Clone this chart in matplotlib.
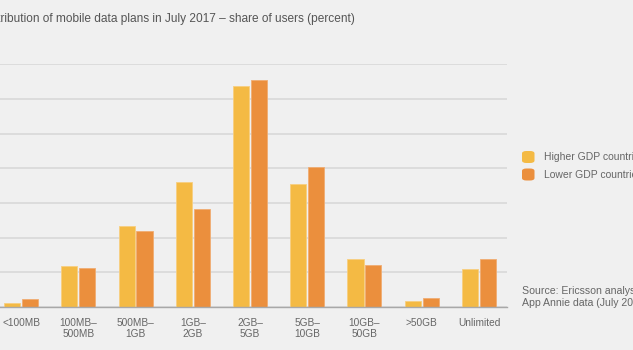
import numpy as np
import matplotlib
matplotlib.use("Agg")
import matplotlib.pyplot as plt
from matplotlib.patches import FancyBboxPatch

# share of users (percent)
categories = ["<100MB", "100MB–\n500MB", "500MB–\n1GB", "1GB–\n2GB", "2GB–\n5GB",
              "5GB–\n10GB", "10GB–\n50GB", ">50GB", "Unlimited"]
higher_gdp = [0.6, 5.9, 11.7, 18.0, 31.8, 17.8, 6.9, 0.9, 5.5]
lower_gdp = [1.2, 5.6, 10.9, 14.2, 32.7, 20.2, 6.1, 1.3, 6.9]

bg = "#f0f0f0"
yellow = "#f4ba44"
orange = "#eb8f3d"
grey_text = "#666666"

plt.rcParams['font.family'] = ['Liberation Sans', 'DejaVu Sans']

fig = plt.figure(figsize=(6.33, 3.5), dpi=100, facecolor=bg)
ax = fig.add_axes([0.0, 0.1229, 0.801, 0.6934], facecolor=bg)

x = np.arange(len(categories))
w = 0.28
off = 0.157
ax.bar(x - off, higher_gdp, w, color=yellow, edgecolor="#f7cf80", linewidth=0.6, zorder=3)
ax.bar(x + off, lower_gdp, w, color=orange, edgecolor="#f0ad73", linewidth=0.6, zorder=3)

ax.set_xlim(-0.367, 8.49)
ax.set_ylim(0, 35)
ax.set_yticks(np.arange(0, 36, 5))
ax.yaxis.grid(True, color="#d6d6d6", linewidth=1.1, zorder=0)
ax.tick_params(axis='y', length=0, labelleft=False)
for s in ["top", "right", "left"]:
    ax.spines[s].set_visible(False)
ax.spines["bottom"].set_color("#a8a8a8")
ax.spines["bottom"].set_linewidth(1.0)
ax.spines["bottom"].set_zorder(4)

ax.set_xticks(x)
ax.set_xticklabels(categories, fontsize=7.3, color=grey_text, linespacing=1.15)
ax.tick_params(axis='x', length=0, pad=8)

# title, partly outside the left edge as in the reference crop
fig.text(-20 / 633, 1 - 22 / 350,
         "Distribution of mobile data plans in July 2017 – share of users (percent)",
         fontsize=8.6, color="#555555", ha="left", va="baseline")

# legend
for i, (lab, col) in enumerate([("Higher GDP countries", yellow), ("Lower GDP countries", orange)]):
    yc = 157 + i * 17.5
    box = FancyBboxPatch((522 / 633, 1 - (yc + 6) / 350), 12.5 / 633, 12 / 350,
                         boxstyle="round,pad=0,rounding_size=0.007",
                         transform=fig.transFigure, facecolor=col, edgecolor="none")
    fig.patches.append(box)
    fig.text(544 / 633, 1 - yc / 350, lab, fontsize=7.5, color=grey_text,
             ha="left", va="center")

fig.text(522 / 633, 1 - 297.5 / 350, "Source: Ericsson analysis of\nApp Annie data (July 2017)",
         fontsize=7.6, color=grey_text, ha="left", va="center", linespacing=1.25)

fig.savefig("out.png", dpi=100, facecolor=bg)
